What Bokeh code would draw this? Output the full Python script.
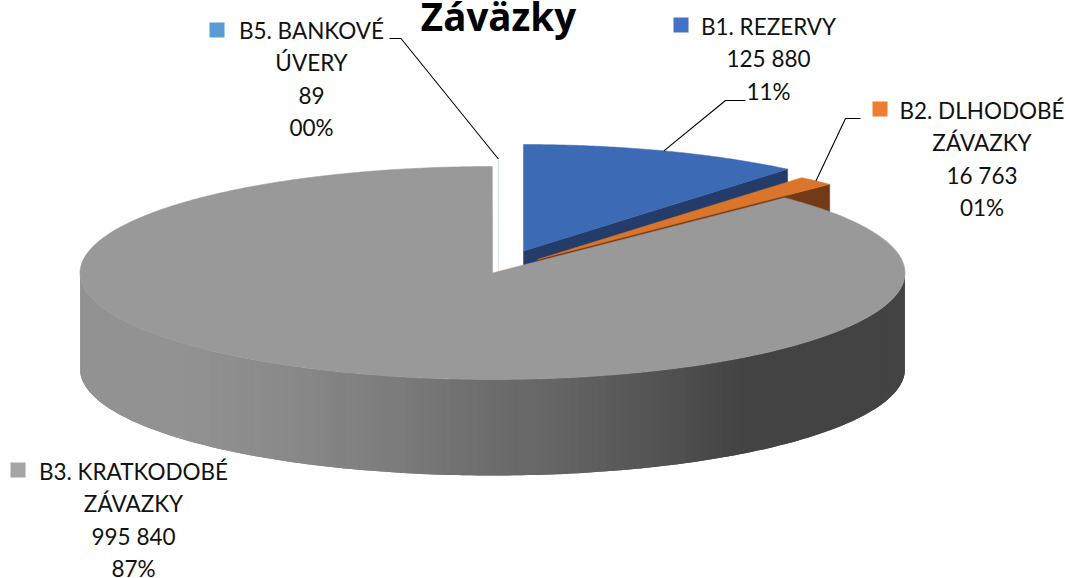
import numpy as np
from bokeh.core.properties import value
from bokeh.embed import file_html
from bokeh.models import Range1d
from bokeh.plotting import figure
from bokeh.resources import INLINE

# ---- data ----
categories = ["B1. REZERVY", "B2. DLHODOBÉ ZÁVAZKY", "B3. KRATKODOBÉ ZÁVAZKY", "B5. BANKOVÉ ÚVERY"]
values = [125880, 16763, 995840, 89]
value_labels = ["125 880", "16 763", "995 840", "89"]
percent_labels = ["11%", "01%", "87%", "00%"]
name_lines = [["B1. REZERVY"], ["B2. DLHODOBÉ", "ZÁVAZKY"], ["B3. KRATKODOBÉ", "ZÁVAZKY"], ["B5. BANKOVÉ", "ÚVERY"]]
title = "Záväzky"

# ---- style / layout ----
W, H = 1066, 578
A, B, DEPTH = 412.5, 106.5, 96
CX, CY = 492, 272.5
centres = [(523, 250.5), (537, 259), (CX, CY), (498, 265)]
top_col = ["#3d6ab4", "#da752c", "#999999", "#5b9bd5"]
key_col = ["#4472c4", "#ed7d31", "#a5a5a5", "#5b9bd5"]
wall_col = ["#243c69", "#743a17", None, "#e6dfca"]
text_col = "#111111"
FONT = "Lato"
label_x = [768, 981.5, 133, 311]
label_y0 = [26, 110, 471, 30]
LINE_H = 32.3
key_xy = [(673, 17), (872, 101), (10, 462), (209, 22)]
KEY = 15
elbows = [[(725, 100), (745, 100)], [(845, 118), (860, 118)], None, [(400.5, 38), (389, 38)]]
grad_x = [80, 180, 280, 400, 480, 560, 680, 740, 905]
grad_v = [146, 146, 138, 123, 110, 100, 79, 67, 67]

p = figure(width=W, height=H, output_backend="svg", toolbar_location=None,
           x_range=Range1d(0, W), y_range=Range1d(H, 0), min_border=0)
p.axis.visible = False
p.grid.visible = False
p.outline_line_color = None
p.background_fill_color = None
p.border_fill_color = None

total = sum(values)
edges = np.concatenate([[0], np.cumsum(values)]) / total * 2 * np.pi


def rim(c, t):
    return c[0] + A * np.sin(t), c[1] - B * np.cos(t)


def wedge(c, t0, t1):
    t = np.linspace(t0, t1, max(3, int((t1 - t0) * 120)))
    x, y = rim(c, t)
    return np.r_[c[0], x], np.r_[c[1], y]


# side walls of the exploded slices (painted back to front)
order = [3, 0, 1]
for i in order:
    c = centres[i]
    ex, ey = rim(c, edges[i + 1])
    p.patch([c[0], ex, ex, c[0]], [c[1], ey, ey + DEPTH, c[1] + DEPTH],
            fill_color=wall_col[i], line_color=wall_col[i], line_width=0.5)
    x, y = wedge(c, edges[i], edges[i + 1])
    p.patch(x, y, fill_color=top_col[i], line_color=top_col[i] if i != 3 else "#cfe0f0", line_width=0.5)

# front wall of the large slice, shaded left to right
ts = np.linspace(np.pi / 2, 3 * np.pi / 2, 181)
rx, ry = rim((CX, CY), ts)
xs, ys, cols = [], [], []
for j in range(len(ts) - 1):
    k = min(j + 2, len(ts) - 1)
    xs.append([rx[j], rx[j + 1], rx[k], rx[k], rx[j + 1], rx[j]])
    ys.append([ry[j], ry[j + 1], ry[k], ry[k] + DEPTH, ry[j + 1] + DEPTH, ry[j] + DEPTH])
    v = int(round(np.interp((rx[j] + rx[j + 1]) / 2, grad_x, grad_v)))
    cols.append(f"#{v:02x}{v:02x}{v:02x}")
p.patches(xs, ys, fill_color=cols, line_color=None)

x, y = wedge((CX, CY), edges[2], edges[3])
p.patch(x, y, fill_color=top_col[2], line_color=top_col[2], line_width=0.5)

# leader lines, anchored at each slice's mid-angle on the rim
for i, e in enumerate(elbows):
    if e is None:
        continue
    ax, ay = rim(centres[i], (edges[i] + edges[i + 1]) / 2)
    p.line([float(ax), e[0][0], e[1][0]], [float(ay), e[0][1], e[1][1]], line_color="#000000", line_width=1.1)

# labels
for i in range(4):
    lines = name_lines[i] + [value_labels[i], percent_labels[i]]
    ys_ = [label_y0[i] + k * LINE_H for k in range(len(lines))]
    p.text([label_x[i]] * len(lines), ys_, text=lines, text_font=value(FONT), text_font_size="22.5px",
           text_align="center", text_baseline="middle", text_color=text_col)
    kx, ky = key_xy[i]
    p.quad(left=[kx], right=[kx + KEY], top=[ky], bottom=[ky + KEY], fill_color=key_col[i], line_color=None)

p.text([498], [15], text=[title], text_font=value("Open Sans"), text_font_size="38.5px", text_font_style="bold",
       text_align="center", text_baseline="middle", text_color="#000000")

open("out.html", "w").write(file_html(p, INLINE))
